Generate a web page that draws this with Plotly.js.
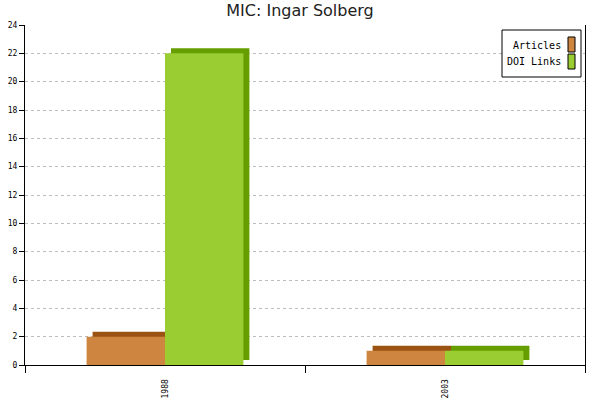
<!DOCTYPE html>
<html>
<head>
<meta charset="utf-8">
<script src="https://cdn.plot.ly/plotly-3.0.1.min.js"></script>
<style>
  html, body { margin: 0; padding: 0; background: #fff; }
  #chart { width: 600px; height: 400px; }
</style>
</head>
<body>
<div id="chart"></div>
<script>
const years = ['1988', '2003'];
const articles = [2, 1];
const doiLinks = [22, 1];
const seriesNames = ['Articles', 'DOI Links'];

const front = { Articles: '#cd853f', 'DOI Links': '#9acd32' };
const dark = { Articles: '#9a5312', 'DOI Links': '#669e00' };

// plot box in pixels
const M = { l: 25, r: 15, t: 25, b: 35 };
const W = 600, H = 400;
const pw = W - M.l - M.r, ph = H - M.t - M.b;
const px2x = (p) => (p - M.l) / pw;
const px2y = (p) => (H - M.b - p) / ph;

const xs = years.map((_, i) => i);
const barW = 0.28;
const dx = 6 / (pw / 2);        // depth of the fake 3d side, in category units
const dy = 5 * 24 / ph;         // depth in value units

function bar(name, vals, offset, color, shadow) {
  return {
    type: 'bar', x: xs, y: vals, name: name,
    offset: shadow ? offset + dx : offset, width: barW,
    base: shadow ? dy : 0,
    marker: { color: color, line: { width: 0 } },
    hoverinfo: shadow ? 'skip' : 'y', showlegend: false
  };
}

const traces = [
  bar('Articles', articles, -barW, dark.Articles, true),
  bar('Articles', articles, -barW, front.Articles, false),
  bar('DOI Links', doiLinks, 0, dark['DOI Links'], true),
  bar('DOI Links', doiLinks, 0, front['DOI Links'], false)
];

// legend drawn by hand: text on the left, swatch on the right
const shapes = [{
  type: 'rect', xref: 'paper', yref: 'paper',
  x0: px2x(502), x1: px2x(581), y0: px2y(30), y1: px2y(77),
  line: { color: '#000', width: 1 }, fillcolor: '#fff', layer: 'above'
}];
const annotations = [];
seriesNames.forEach((n, i) => {
  const top = 37 + i * 17;
  shapes.push({
    type: 'rect', xref: 'paper', yref: 'paper',
    x0: px2x(568), x1: px2x(575), y0: px2y(top), y1: px2y(top + 15),
    line: { color: '#000', width: 1 }, fillcolor: front[n], layer: 'above'
  });
  annotations.push({
    xref: 'paper', yref: 'paper', x: px2x(563), y: px2y(top + 8),
    xanchor: 'right', yanchor: 'middle', showarrow: false, text: n,
    font: { family: 'DejaVu Sans Mono, monospace', size: 10, color: '#000' }
  });
});

const layout = {
  width: W, height: H,
  margin: M,
  paper_bgcolor: '#fff', plot_bgcolor: '#fff',
  title: { text: 'MIC: Ingar Solberg', x: 0.5, xanchor: 'center', y: 0.975, yanchor: 'middle',
    font: { family: 'DejaVu Sans, sans-serif', size: 16, color: '#222' } },
  barmode: 'overlay',
  showlegend: false,
  xaxis: {
    range: [-0.5, 1.5], tickvals: xs, ticktext: years, tickangle: -90,
    ticks: '', showgrid: false, zeroline: false,
    showline: true, linecolor: '#000', linewidth: 1,
    ticklabelstandoff: 10,
    tickfont: { family: 'DejaVu Sans Mono, monospace', size: 8, color: '#000' },
    minor: { tick0: -0.5, dtick: 1, ticks: 'outside', ticklen: 7, tickcolor: '#000', showgrid: false }
  },
  yaxis: {
    range: [0, 24], dtick: 2, ticks: 'outside', ticklen: 5, tickcolor: '#000',
    showline: true, linecolor: '#000', linewidth: 1, mirror: true,
    showgrid: true, gridcolor: '#bdbdbd', griddash: '3px,3px', zeroline: false,
    tickfont: { family: 'DejaVu Sans Mono, monospace', size: 8, color: '#000' }
  },
  shapes: shapes,
  annotations: annotations
};

Plotly.newPlot('chart', traces, layout, { displayModeBar: false, staticPlot: true });
</script>
</body>
</html>
